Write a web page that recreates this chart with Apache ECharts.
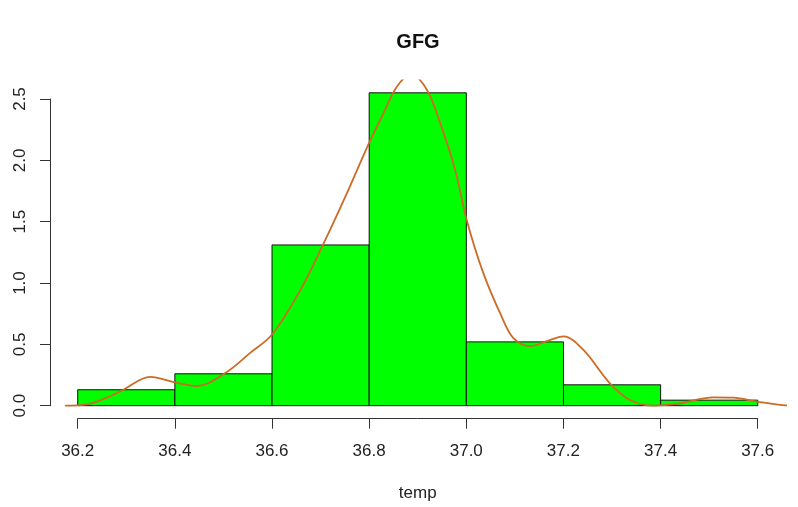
<!DOCTYPE html>
<html>
<head>
<meta charset="utf-8">
<script src="https://cdn.jsdelivr.net/npm/echarts@6/dist/echarts.min.js"></script>
<style>
  html, body { margin: 0; padding: 0; background: #fff; }
  #chart { width: 798px; height: 507px; }
</style>
</head>
<body>
<div id="chart"></div>
<script>
// histogram bins (density) of temp
const binStart = [36.2, 36.4, 36.6, 36.8, 37.0, 37.2, 37.4];
const binEnd = [36.4, 36.6, 36.8, 37.0, 37.2, 37.4, 37.6];
const density = [0.13, 0.26, 1.31, 2.55, 0.52, 0.17, 0.045];

// kernel density curve
const curveX = [36.174, 36.2185, 36.26, 36.294, 36.349, 36.4, 36.445, 36.503, 36.555, 36.6,
  36.658, 36.706, 36.754, 36.798, 36.829, 36.857, 36.886, 36.919, 36.949, 36.977,
  37.001, 37.035, 37.07, 37.097, 37.131, 37.172, 37.2, 37.241, 37.296, 37.337,
  37.385, 37.433, 37.509, 37.55, 37.598, 37.656, 37.68];
const curveY = [0, 0.01, 0.065, 0.13, 0.235, 0.19, 0.16, 0.264, 0.43, 0.58,
  0.94, 1.32, 1.73, 2.125, 2.38, 2.60, 2.70, 2.573, 2.27, 1.92,
  1.51, 1.08, 0.75, 0.55, 0.485, 0.535, 0.565, 0.454, 0.18, 0.046,
  0.0, 0.014, 0.068, 0.065, 0.033, 0.003, 0];

const xTicks = ['36.2', '36.4', '36.6', '36.8', '37.0', '37.2', '37.4', '37.6'];
const yTicks = ['0.0', '0.5', '1.0', '1.5', '2.0', '2.5'];

const bars = binStart.map(function (s, i) { return [s, binEnd[i], density[i]]; });
const curve = curveX.map(function (x, i) { return [x, curveY[i]]; });

const font = 'Liberation Sans, Arial, sans-serif';
const axisCol = '#333';

var myChart = echarts.init(document.getElementById('chart'));
var option = {
  animation: false,
  backgroundColor: '#fff',
  title: {
    text: 'GFG',
    left: 413,
    top: 27,
    textAlign: 'center',
    textStyle: { fontFamily: font, fontSize: 20, fontWeight: 'bold', color: '#111' }
  },
  grid: [
    // plot region
    { left: 50.5, right: 13, top: 80.3, bottom: 88.8 },
    // x axis (ticks only from 36.2 to 37.6)
    { left: 77.7, right: 40.3, top: 80.3, bottom: 88.3 },
    // y axis (ticks only from 0 to 2.5)
    { left: 50, right: 13, top: 99, bottom: 101.3 }
  ],
  xAxis: [
    { gridIndex: 0, type: 'value', min: 36.144, max: 37.656, show: false },
    {
      gridIndex: 1, type: 'value', min: 36.2, max: 37.6, interval: 0.2,
      name: 'temp', nameLocation: 'middle', nameGap: 66,
      nameTextStyle: { fontFamily: font, fontSize: 17, color: '#222' },
      axisLine: { show: true, lineStyle: { color: axisCol, width: 1 } },
      axisTick: { show: true, length: 10, lineStyle: { color: axisCol } },
      axisLabel: {
        margin: 24, fontFamily: font, fontSize: 17, color: '#222',
        formatter: function (v) { return xTicks[Math.round((v - 36.2) / 0.2)]; }
      },
      splitLine: { show: false }
    },
    { gridIndex: 2, type: 'value', min: 0, max: 1, show: false }
  ],
  yAxis: [
    { gridIndex: 0, type: 'value', min: -0.102, max: 2.652, show: false },
    { gridIndex: 1, type: 'value', min: 0, max: 1, show: false },
    {
      gridIndex: 2, type: 'value', min: 0, max: 2.5, interval: 0.5,
      axisLine: { show: true, lineStyle: { color: axisCol, width: 1 } },
      axisTick: { show: true, length: 10, lineStyle: { color: axisCol } },
      axisLabel: {
        margin: 21, rotate: 90, fontFamily: font, fontSize: 17, color: '#222',
        formatter: function (v) { return yTicks[Math.round(v / 0.5)]; }
      },
      splitLine: { show: false }
    }
  ],
  series: [
    {
      type: 'custom',
      xAxisIndex: 0,
      yAxisIndex: 0,
      data: bars,
      renderItem: function (params, api) {
        var p0 = api.coord([api.value(0), api.value(2)]);
        var p1 = api.coord([api.value(1), 0]);
        return {
          type: 'rect',
          shape: { x: p0[0], y: p0[1], width: p1[0] - p0[0], height: p1[1] - p0[1] },
          style: { fill: '#00FF00', stroke: '#111', lineWidth: 1 }
        };
      }
    },
    {
      type: 'line',
      xAxisIndex: 0,
      yAxisIndex: 0,
      data: curve,
      smooth: 0.35,
      showSymbol: false,
      clip: true,
      lineStyle: { color: '#CC6A26', width: 1.8 }
    }
  ]
};
myChart.setOption(option);
window.addEventListener('resize', function () {
  myChart.resize();
});
</script>
</body>
</html>
